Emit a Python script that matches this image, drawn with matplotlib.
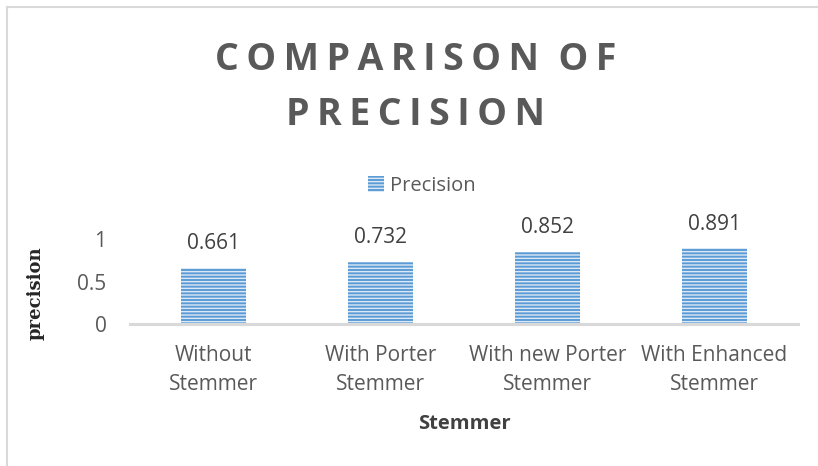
import numpy as np
import matplotlib.pyplot as plt
from matplotlib.lines import Line2D

plt.rcParams['font.family'] = ['Open Sans', 'DejaVu Sans']
plt.rcParams['hatch.color'] = '#dbe8f6'
plt.rcParams['hatch.linewidth'] = 1.0

#Data
categories = ['Without\nStemmer', 'With Porter\nStemmer', 'With new Porter\nStemmer', 'With Enhanced\nStemmer']
precision = [0.661, 0.732, 0.852, 0.891]
yticks = [0, 0.5, 1]
ytick_labels = ['0', '0.5', '1']
title_lines = ['COMPARISON OF', 'PRECISION']

grey = '#595959'
blue = '#5b9bd5'

fig = plt.figure(figsize=(8.18, 4.66), dpi=100)
ax = fig.add_axes([130/818, 1 - 324/466, 668/818, 85/466])

x = np.arange(len(categories))
bars = ax.bar(x, precision, width=0.385, color=blue, hatch='-----', linewidth=0)

#value labels above bars
for xi, v in zip(x, precision):
    ax.text(xi, v + 0.16, '%.3f' % v, ha='center', va='bottom', fontsize=15, color='#404040', clip_on=False)

ax.set_xlim(-0.5, len(categories) - 0.5)
ax.set_ylim(0, 1)
ax.set_yticks(yticks)
ax.set_yticklabels(ytick_labels, fontsize=15, color=grey)
ax.set_xticks(x)
ax.set_xticklabels(categories, fontsize=15, color=grey, linespacing=1.5)
ax.tick_params(axis='both', length=0)
ax.tick_params(axis='y', pad=17)
ax.tick_params(axis='x', pad=15)
for s in ['top', 'right', 'left']:
    ax.spines[s].set_visible(False)
ax.spines['bottom'].set_color('#d9d9d9')
ax.spines['bottom'].set_linewidth(2.2)

ax.set_xlabel('Stemmer', fontsize=14.5, fontweight='bold', color='#404040', labelpad=14)
fig.text(36/818, 1 - 293/466, 'precision', rotation=90, ha='center', va='center',
         fontsize=13, fontweight='bold', family='DejaVu Serif', color='#262626')

#title, letters spread out with thin spaces
ts = '\u2009'
for line, ypix in zip(title_lines, [60, 115]):
    spaced = ts.join(line).replace(ts + ' ' + ts, '  ')
    fig.text(416/818, 1 - ypix/466, spaced, ha='center', va='center',
             fontsize=27, fontweight='bold', color=grey, family=['Open Sans', 'DejaVu Sans'])

#legend
leg = fig.legend([bars[0]], ['Precision'], loc='center', bbox_to_anchor=(422/818, 1 - 186/466),
                 frameon=False, fontsize=14.5, handlelength=0.8, handleheight=0.8, handletextpad=0.3)
for t in leg.get_texts():
    t.set_color(grey)

#chart border
fig.add_artist(Line2D([7/818, 7/818], [0, 1 - 7/466], color='#d9d9d9', lw=1.5))
fig.add_artist(Line2D([7/818, 1], [1 - 7/466, 1 - 7/466], color='#d9d9d9', lw=1.5))

fig.savefig('out.png', dpi=100)
